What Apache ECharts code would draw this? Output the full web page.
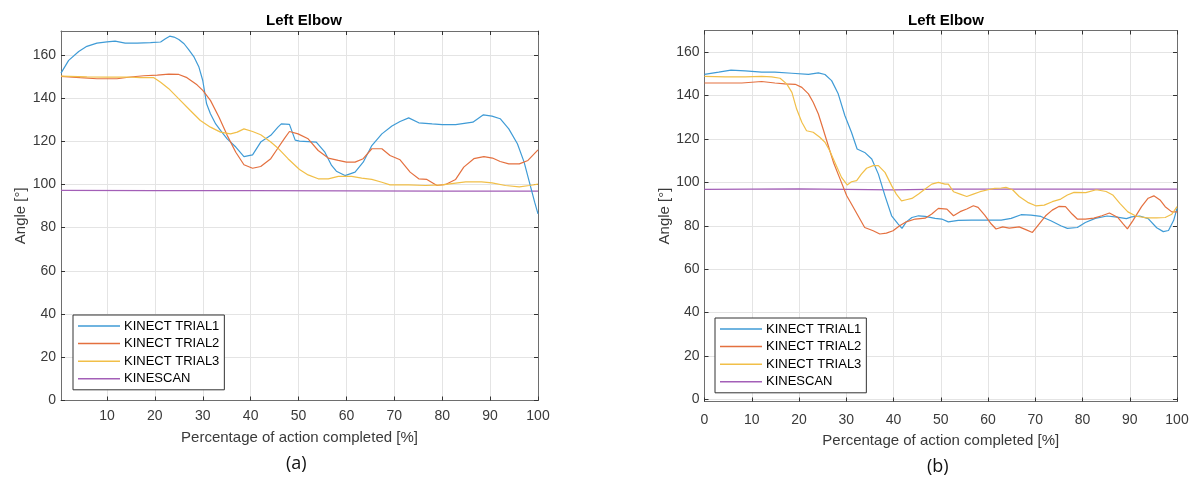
<!DOCTYPE html>
<html>
<head>
<meta charset="utf-8">
<script src="https://cdn.jsdelivr.net/npm/echarts@6/dist/echarts.min.js"></script>
<style>
  html, body { margin: 0; padding: 0; background: #fff; }
  #main { width: 1197px; height: 480px; }
</style>
</head>
<body>
<div id="main"></div>
<script>
// ---- data ([percent, angle]) ----
const seriesNames = ['KINECT TRIAL1', 'KINECT TRIAL2', 'KINECT TRIAL3', 'KINESCAN'];
const xTicks = [10, 20, 30, 40, 50, 60, 70, 80, 90, 100];
const xTicksB = [0, 10, 20, 30, 40, 50, 60, 70, 80, 90, 100];
const yTicks = [0, 20, 40, 60, 80, 100, 120, 140, 160];

// panel (a)
const aTrial1 = [[0.4,151.5],[2,157.4],[4.1,161.5],[5.8,163.9],[7.9,165.4],[10,166],[11.7,166.3],[13.8,165.4],[16.3,165.4],[19.1,165.6],[21.2,165.9],[22.2,167.4],[23.1,168.6],[24,168.2],[25,167.1],[26.1,165.1],[27.1,162.3],[28.2,158.9],[29.2,154.3],[30,148.1],[30.8,137.3],[31.6,132.7],[32.7,128],[33.7,125],[35.1,121.1],[36.9,117.3],[38.6,112.9],[40.4,113.7],[42.1,119.6],[44.2,122.7],[45.7,126.5],[46.4,128],[48.1,127.8],[49.3,120.5],[50.2,120],[52,119.8],[53.7,119.6],[55.5,114.9],[56.9,108.8],[57.9,106.1],[59.7,104.1],[61.8,105.7],[63.5,110.3],[65.3,118],[67.4,123.4],[69.5,127],[71.2,129.1],[73,130.8],[75.1,128.5],[77.9,128],[80,127.7],[82.8,127.7],[86.4,128.8],[88.6,132.2],[90.4,131.6],[92.1,130.4],[93.9,125.7],[95.7,118.8],[97.1,110.3],[98.2,101.1],[99.3,91.8],[100,86.4]];
const aTrial2 = [[0.4,150],[4.4,149.4],[7.9,148.9],[12.1,148.9],[14.9,149.7],[17.7,150.3],[20.5,150.6],[22.9,151],[25,150.9],[26.7,149.4],[28.8,146.1],[30,143.5],[31.6,138.9],[33.4,131.1],[35.1,122.7],[36.9,114.9],[38.6,109.1],[40.4,107.5],[42.1,108.3],[44.2,111.9],[45.6,116.5],[47,121.1],[48.1,124.5],[49.9,123.4],[52,121.1],[54.1,115.7],[56.2,112.2],[58.3,111.1],[60,110.3],[61.8,110.3],[63.5,111.9],[65.3,116.5],[67.4,116.5],[69.1,113.4],[71.2,111.4],[73.3,105.7],[75.1,102.6],[76.8,102.3],[78.9,99.5],[80.7,100],[82.8,102.3],[84.5,108],[86.6,111.9],[88.7,112.9],[90.5,112.2],[92.1,110.6],[93.9,109.5],[96.1,109.5],[97.9,111.1],[100,116]];
const aTrial3 = [[0.4,150.1],[5.8,149.8],[10,149.7],[14.2,149.7],[17,149.4],[19.8,149.4],[21.2,147.3],[22.9,144.3],[25,139.6],[27.4,134.2],[29.5,129.6],[31.6,126.5],[33.7,124.2],[35.8,123.4],[37.2,124.2],[38.6,125.7],[40.4,124.5],[42.1,123],[44.2,119.6],[45.6,117],[47.8,111.9],[50.2,106.9],[52,104.4],[54.1,102.6],[56.2,102.6],[58.3,103.7],[61.1,103.7],[63.2,102.9],[65.3,102.3],[67.4,101],[69.1,99.8],[73,99.8],[76.5,99.5],[80,99.8],[82.8,100.6],[84.9,101.2],[88.2,101.2],[90.4,100.7],[93.2,99.5],[96.1,98.9],[98.2,99.5],[100,100.1]];
const aKinescan = [[0.4,97.2],[20,97.1],[40,97.1],[60,97.0],[80,96.9],[100,96.9]];

// panel (b)
const bTrial1 = [[0,149.8],[3,150.8],[5.6,151.7],[8.6,151.4],[12.1,150.8],[14.9,150.8],[18.5,150.3],[22,149.8],[24.1,150.5],[25.5,149.7],[26.9,146.9],[28.3,140.8],[29.7,130.8],[31.1,123.1],[32.3,115.4],[33.9,113.8],[35.4,110.8],[36.8,103.8],[38.2,93.8],[39.6,84.6],[41,80.8],[41.8,78.8],[42.7,81.8],[43.9,83.8],[45.3,84.6],[46.7,84.3],[48.8,83.4],[50.2,83.1],[51.6,81.8],[53.7,82.5],[56.5,82.6],[60,82.6],[62.8,82.6],[64.9,83.4],[67,85.1],[69.1,84.9],[71.2,84.3],[73.3,82.3],[75.4,80],[76.8,78.8],[78.9,79.2],[80.6,81.5],[82.7,83.4],[85.2,84.5],[87.3,84],[89.3,83.3],[90.4,84.1],[92.1,84.5],[93.9,83.3],[95.7,79.1],[97.1,77.3],[98.2,77.8],[99.3,82.5],[100,88]];
const bTrial2 = [[0,145.8],[4.4,145.8],[7.9,145.8],[12.1,146.5],[14.9,145.8],[17,145.4],[19.2,145.2],[20.6,143.8],[22,140.8],[23,136.9],[24.1,131.5],[25.1,124.6],[26.2,116.9],[27.3,109.2],[28.7,101.5],[30.1,93.8],[31.1,90],[32.5,84.6],[33.9,79.2],[35.7,77.7],[37.1,76.2],[38.5,76.6],[39.9,77.7],[41.3,80],[42.7,81.8],[44.6,83.1],[46.7,83.5],[48.1,85.4],[49.5,88],[51.3,87.7],[52.7,84.6],[54.1,86.5],[55.5,87.7],[56.9,89.2],[57.9,88.5],[59.3,84.9],[60.7,80.8],[61.7,78.5],[63.1,79.5],[64.5,78.9],[66.6,79.5],[68,78.2],[69.4,76.9],[70.8,80.8],[72.2,84.6],[73.6,87.2],[75,88.9],[76.4,88.8],[77.8,85.4],[78.9,83.1],[80.6,83.1],[82.4,83.5],[84.1,84.6],[85.7,85.9],[87.5,83.8],[88.6,80.9],[89.5,78.6],[90.7,82.5],[92.5,88.8],[93.9,92.7],[95.1,93.8],[96.4,91.9],[97.5,88.8],[98.9,86.4],[100,86.4]];
const bTrial3 = [[0,148.9],[4.4,148.6],[8.6,148.6],[12.1,148.9],[14.2,148.6],[16,148],[17.4,145.4],[18.5,141.5],[19.5,133.8],[20.6,127.7],[21.6,123.8],[23,123.1],[24.4,120.8],[25.5,118.5],[26.5,114.6],[27.6,109.2],[29,102.3],[30.2,98.8],[31.1,100.3],[32.2,100.8],[33.2,103.8],[34.3,106.5],[35.7,107.7],[36.8,107.7],[38.2,104.6],[39.6,98.5],[40.6,94.6],[41.7,91.5],[42.7,92],[43.9,92.6],[45.3,94.6],[46.7,96.9],[48.1,99.2],[49.5,100],[50.9,99.2],[51.6,99.2],[52.7,95.7],[54.1,94.6],[55.5,93.5],[56.9,94.6],[58.3,95.7],[60,96.6],[61.4,97.2],[62.8,97.4],[63.8,97.7],[65.2,96.6],[66.6,93.5],[68.4,90.8],[70.1,89.2],[71.9,89.5],[73.6,91.1],[75.4,92.3],[76.8,94.2],[78.2,95.4],[80.7,95.3],[82.9,96.6],[85,95.8],[86.4,94.2],[87.9,90.3],[89.6,86.4],[91.4,84.4],[93.6,83.6],[95.7,83.6],[97.5,83.8],[98.9,85.3],[100,88.8]];
const bKinescan = [[0,96.8],[20,97.0],[40,96.5],[50,96.9],[70,96.9],[100,96.9]];

const colors = ['#3f9bd6', '#e4703f', '#f1bf48', '#a35fb7'];

const chart = echarts.init(document.getElementById('main'));

const axisCol = '#6e6e6e';
const labelCol = '#3a3a3a';
const font = 'Liberation Sans, Arial, sans-serif';

function xAx(grid, min, ticks, top, labelGap, nameGap) {
  return {
    type: 'value', gridIndex: grid, min: min, max: 100,
    position: top ? 'top' : 'bottom',
    name: top ? '' : 'Percentage of action completed [%]',
    nameLocation: 'middle', nameGap: nameGap,
    nameTextStyle: { fontSize: 15, color: labelCol, fontFamily: font },
    axisLine: { show: true, onZero: false, lineStyle: { color: axisCol, width: 1 } },
    axisTick: { show: true, inside: true, length: 4, customValues: ticks, lineStyle: { color: '#333' } },
    axisLabel: { show: !top, customValues: ticks, fontSize: 14, color: labelCol, fontFamily: font, margin: labelGap },
    splitLine: { show: !top, lineStyle: { color: '#e4e4e4', width: 1 } }
  };
}
function yAx(grid, min, max, right) {
  return {
    type: 'value', gridIndex: grid, min: min, max: max,
    position: right ? 'right' : 'left',
    name: right ? '' : 'Angle [°]',
    nameLocation: 'middle', nameGap: 32,
    nameTextStyle: { fontSize: 15, color: labelCol, fontFamily: font },
    axisLine: { show: true, onZero: false, lineStyle: { color: axisCol, width: 1 } },
    axisTick: { show: true, inside: true, length: 4, customValues: yTicks, lineStyle: { color: '#333' } },
    axisLabel: { show: !right, customValues: yTicks, fontSize: 14, color: labelCol, fontFamily: font, margin: 5 },
    splitLine: { show: !right, lineStyle: { color: '#e4e4e4', width: 1 } }
  };
}

function lines(data, xi, yi) {
  return data.map((d, i) => ({
    type: 'line', name: seriesNames[i], data: d,
    xAxisIndex: xi, yAxisIndex: yi,
    symbol: 'none', smooth: false, silent: true,
    lineStyle: { width: 1.2, color: colors[i] },
    itemStyle: { color: colors[i] },
    z: i === 3 ? 2 : 3
  }));
}

function legend(left, top) {
  return {
    orient: 'vertical', left: left, top: top,
    icon: 'rect', itemWidth: 42, itemHeight: 1.5, itemGap: 3.6,
    padding: [4, 5, 4, 5],
    borderColor: '#333', borderWidth: 1, backgroundColor: '#fff',
    selectedMode: false,
    textStyle: { fontSize: 13, lineHeight: 14, color: '#000', fontFamily: font, padding: [0, 0, 0, -1] },
    data: seriesNames
  };
}

chart.setOption({
  animation: false,
  title: [
    { text: 'Left Elbow', left: 299, top: 8, textAlign: 'center',
      textStyle: { fontSize: 15, fontWeight: 'bold', color: '#000', fontFamily: font } },
    { text: 'Left Elbow', left: 941, top: 8, textAlign: 'center',
      textStyle: { fontSize: 15, fontWeight: 'bold', color: '#000', fontFamily: font } }
  ],
  grid: [
    { left: 61, top: 31, width: 477, height: 369.5 },
    { left: 704.5, top: 30.5, width: 472.5, height: 371 }
  ],
  xAxis: [xAx(0, 0.4, xTicks, false, 9, 30), xAx(0, 0.4, xTicks, true, 9, 30),
          xAx(1, 0, xTicksB, false, 12, 32), xAx(1, 0, xTicksB, true, 12, 32)],
  yAxis: [yAx(0, 0, 171, false), yAx(0, 0, 171, true), yAx(1, -1, 170, false), yAx(1, -1, 170, true)],
  legend: [legend(73, 315), legend(715, 318)],
  graphic: [
    { type: 'text', left: 286, top: 455, style: { text: '(a)', fontSize: 18, fill: '#111', fontFamily: 'Open Sans, sans-serif' } },
    { type: 'text', left: 927, top: 458, style: { text: '(b)', fontSize: 18, fill: '#111', fontFamily: 'Open Sans, sans-serif' } }
  ],
  series: [
    ...lines([aTrial1, aTrial2, aTrial3, aKinescan], 0, 0),
    ...lines([bTrial1, bTrial2, bTrial3, bKinescan], 2, 2)
  ]
});
</script>
</body>
</html>
